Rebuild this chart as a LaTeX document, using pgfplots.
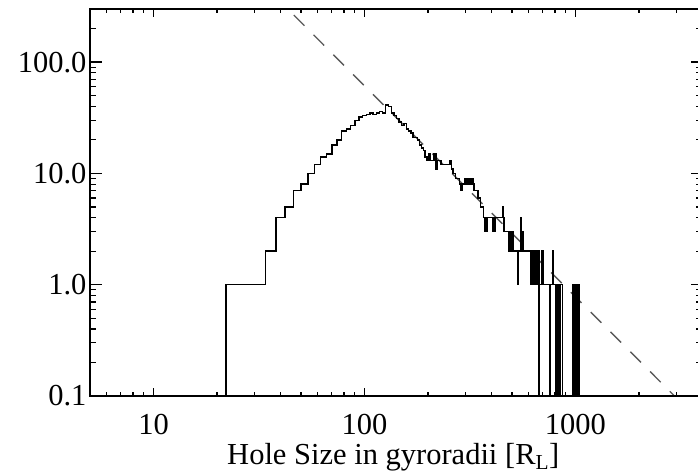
\documentclass[border=0pt]{standalone}
\usepackage{fontspec}
\setmainfont{Liberation Serif}
\usepackage{pgfplots}
\pgfplotsset{compat=1.18}
\begin{document}
\begin{tikzpicture}
\begin{axis}[
  at={(90bp,79bp)}, anchor=south west, scale only axis,
  width=612.5bp, height=387bp,
  xmode=log, ymode=log, xmin=5, xmax=4000, ymin=0.1, ymax=300,
  tick align=inside, tick pos=both,
  axis line style={line width=1.2bp, black},
  tick style={line width=1.2bp, black},
  tick label style={font=\fontsize{30.5bp}{36bp}\selectfont},
  xtick={10,100,1000}, xticklabels={10,100,1000},
  minor xtick={6,7,8,9,20,30,40,50,60,70,80,90,200,300,400,500,600,700,800,900,2000,3000},
  ytick=\empty,
  major tick length=7.7bp, minor tick length=4.3bp,
  xticklabel style={anchor=base, yshift=-38bp},
  xlabel={Hole Size in gyroradii [R\textsubscript{L}]},
  xlabel style={at={(axis description cs:0.5,0)}, anchor=base, yshift=-68bp, xshift=-3bp, font=\fontsize{30.5bp}{36bp}\selectfont},
]
\addplot[black!65, line width=1.3bp, dash pattern=on 15bp off 13bp] coordinates {(30,600) (4000,0.0561)};
\addplot[const plot, black, line width=1.5bp] table[row sep=\\] {
x y\\
5 0.01\\ 22 1\\ 26 1\\ 30 1\\ 34 2\\ 38 4\\ 42 5\\ 46 7\\ 50 8\\ 54 10\\
58 12\\ 62 14\\ 66 15\\ 70 18\\ 74 20\\ 78 24\\ 82 25\\ 86 27\\ 90 30\\ 94 32\\
98 33\\ 102 34\\ 106 35\\ 110 34\\ 114 35\\ 118 36\\ 122 35\\ 126 41\\ 130 40\\ 134 35\\
138 33\\ 142 31\\ 146 29\\ 150 27\\ 154 28\\ 158 25\\ 162 24\\ 166 23\\ 170 21\\ 174 21\\
178 20\\ 182 18\\ 186 17\\ 190 16\\ 194 14\\ 198 13\\ 202 15\\ 206 13\\ 210 13\\ 214 15\\
218 11\\ 222 13\\ 226 13\\ 230 12\\ 234 12\\ 238 12\\ 242 12\\ 246 12\\ 250 12\\ 254 13\\
258 11\\ 262 10\\ 266 10\\ 270 9\\ 274 9\\ 278 9\\ 282 8\\ 286 7\\ 290 8\\ 294 8\\
298 9\\ 302 8\\ 306 9\\ 310 8\\ 314 9\\ 318 8\\ 322 9\\ 326 8\\ 330 7\\ 334 7\\
338 7\\ 342 7\\ 346 6\\ 350 6\\ 354 5\\ 358 5\\ 362 5\\ 366 4\\ 370 3\\ 374 4\\
378 3\\ 382 4\\ 386 4\\ 390 4\\ 394 4\\ 398 4\\ 402 4\\ 406 3\\ 410 4\\ 414 3\\
418 4\\ 422 4\\ 426 4\\ 430 4\\ 434 4\\ 438 4\\ 442 4\\ 446 4\\ 450 5\\ 454 4\\
458 3\\ 462 3\\ 466 3\\ 470 3\\ 474 3\\ 478 3\\ 482 2\\ 486 3\\ 490 2\\ 494 3\\
498 3\\ 502 3\\ 506 2\\ 510 2\\ 514 2\\ 518 2\\ 522 2\\ 526 2\\ 530 1\\ 534 2\\
538 2\\ 542 2\\ 546 2\\ 550 4\\ 554 3\\ 558 2\\ 562 3\\ 566 2\\ 570 2\\ 574 2\\
578 2\\ 582 2\\ 586 2\\ 590 2\\ 594 2\\ 598 2\\ 602 2\\ 606 2\\ 610 2\\ 614 1\\
618 2\\ 622 2\\ 626 1\\ 630 2\\ 634 2\\ 638 1\\ 642 2\\ 646 2\\ 650 1\\ 654 2\\
658 1\\ 662 2\\ 666 2\\ 670 0.01\\ 674 1\\ 678 1\\ 682 1\\ 686 1\\ 690 2\\ 694 1\\
698 1\\ 702 2\\ 706 1\\ 710 1\\ 714 1\\ 718 1\\ 722 1\\ 726 1\\ 730 1\\ 734 1\\
738 1\\ 742 1\\ 746 1\\ 750 1\\ 754 0.01\\ 758 1\\ 762 1\\ 766 1\\ 770 1\\ 774 1\\
778 1\\ 782 2\\ 786 1\\ 790 1\\ 794 1\\ 798 1\\ 802 1\\ 806 0.01\\ 810 1\\ 814 0.01\\
818 1\\ 822 1\\ 826 1\\ 830 0.01\\ 834 1\\ 838 1\\ 842 0.01\\ 846 1\\ 850 1\\ 854 1\\
858 1\\ 862 1\\ 866 0.01\\ 974 1\\ 978 1\\ 982 1\\ 986 1\\ 990 0.01\\ 994 1\\ 998 0.01\\
1002 1\\ 1006 0.01\\ 1010 1\\ 1014 0.01\\ 1018 1\\ 1022 0.01\\ 1026 1\\ 1030 0.01\\ 1034 1\\ 1038 0.01\\
1042 1\\ 1046 0.01\\ 1050 0.01\\
};
\end{axis}
\begin{axis}[
  at={(90bp,79bp)}, anchor=south west, scale only axis,
  width=612.5bp, height=387bp,
  xmode=log, ymode=log, xmin=5, xmax=4000, ymin=0.1, ymax=300,
  tick align=inside, tick pos=both,
  axis line style={line width=1.2bp, black},
  tick style={line width=1.2bp, black},
  tick label style={font=\fontsize{30.5bp}{36bp}\selectfont},
  xtick=\empty,
  ytick={0.1,1,10,100}, yticklabels={0.1,1.0,10.0,100.0},
  minor ytick={0.2,0.3,0.4,0.5,0.6,0.7,0.8,0.9,2,3,4,5,6,7,8,9,20,30,40,50,60,70,80,90,200},
  major tick length=12bp, minor tick length=6.5bp,
]
\end{axis}
\pgfresetboundingbox
\path[use as bounding box] (0,0) rectangle (698bp,475bp);
\end{tikzpicture}
\end{document}
